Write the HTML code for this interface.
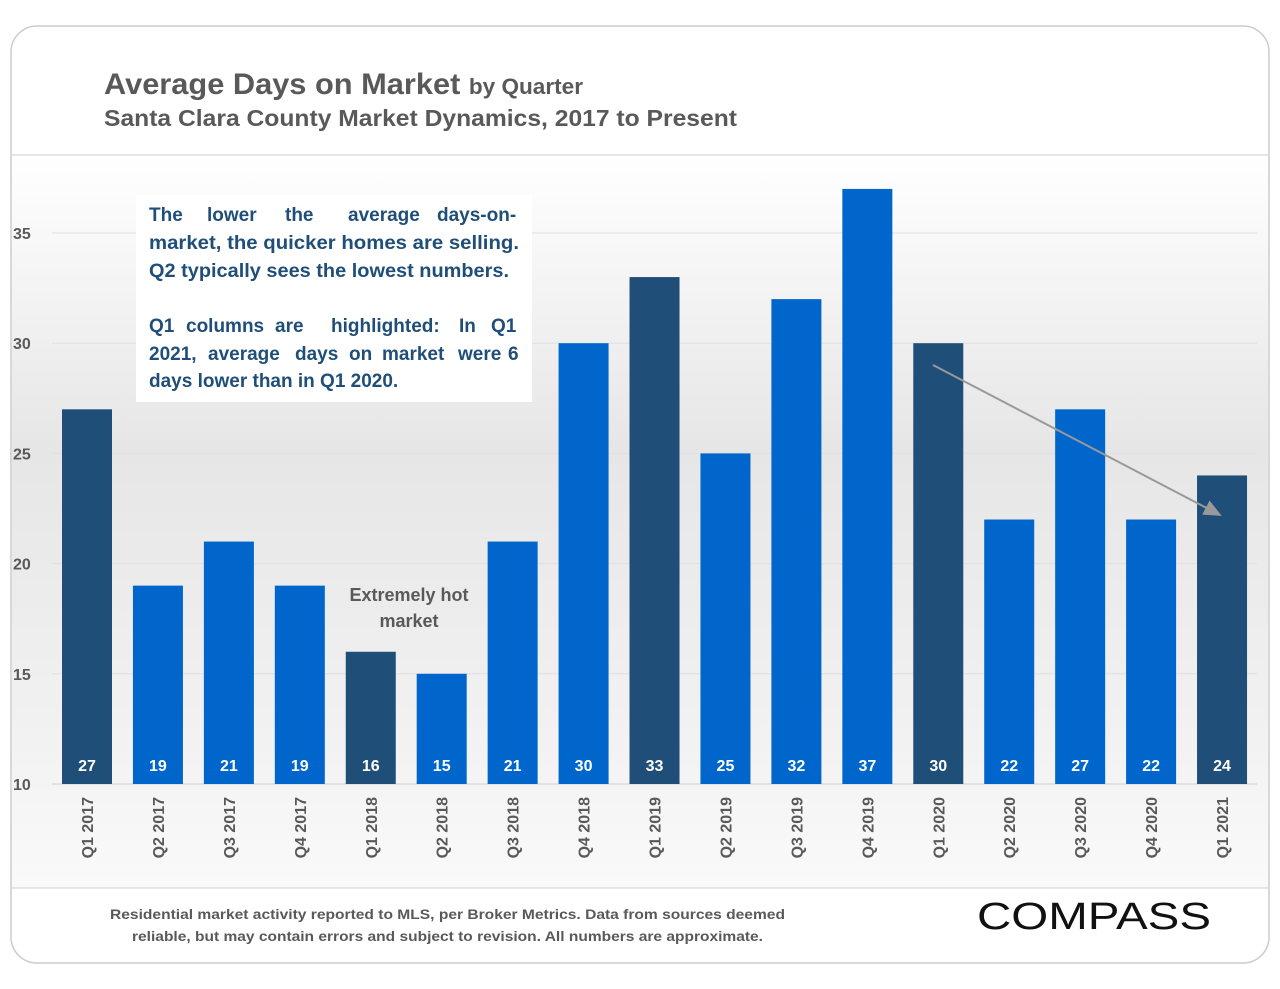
<!DOCTYPE html>
<html><head><meta charset="utf-8"><style>
body{margin:0;background:#fff;}
svg{display:block;font-family:"Liberation Sans",sans-serif;}
</style></head><body>
<svg id="chart" width="1280" height="989" viewBox="0 0 1280 989">
<defs>
<linearGradient id="bg" x1="0" y1="0" x2="0" y2="1">
<stop offset="0" stop-color="#ffffff"/><stop offset="0.4" stop-color="#e6e6e6"/><stop offset="0.8" stop-color="#f2f2f2"/><stop offset="1" stop-color="#fafafa"/>
</linearGradient>
<marker id="ah" markerWidth="10" markerHeight="10" refX="8" refY="5" orient="auto"><path d="M0,1 L9,5 L0,9 z" fill="#999"/></marker>
</defs>
<rect x="11" y="26" width="1258" height="937" rx="26" fill="#fff" stroke="#ccc" stroke-width="1.5"/>
<rect x="12" y="155" width="1256" height="733" fill="url(#bg)"/>
<line x1="12" y1="155" x2="1268" y2="155" stroke="#ddd" stroke-width="1.5"/>
<line x1="12" y1="888" x2="1268" y2="888" stroke="#ddd" stroke-width="1.5"/>
<text x="104" y="94" font-size="30" font-weight="bold" fill="#595959" textLength="479" lengthAdjust="spacingAndGlyphs">Average Days on Market <tspan font-size="22">by Quarter</tspan></text>
<text x="104" y="126" font-size="23" font-weight="bold" fill="#595959" textLength="633" lengthAdjust="spacingAndGlyphs">Santa Clara County Market Dynamics, 2017 to Present</text>
<g id="grid"></g>
<g id="bars"></g>
<g id="xlabels"></g>
<rect x="136" y="195" width="396" height="207" fill="#fff"/>
<g font-size="19" font-weight="bold" fill="#1f4e79">
<text y="221"><tspan x="149">The</tspan><tspan x="207">lower</tspan><tspan x="285">the</tspan><tspan x="348">average</tspan><tspan x="437">days-on-</tspan></text>
<text x="149" y="249" textLength="370" lengthAdjust="spacingAndGlyphs">market, the quicker homes are selling.</text>
<text x="149" y="277" textLength="360" lengthAdjust="spacingAndGlyphs">Q2 typically sees the lowest numbers.</text>
<text y="332"><tspan x="149">Q1</tspan><tspan x="186">columns</tspan><tspan x="275">are</tspan><tspan x="331">highlighted:</tspan><tspan x="459">In</tspan><tspan x="491">Q1</tspan></text>
<text y="360"><tspan x="149">2021,</tspan><tspan x="208">average</tspan><tspan x="295">days</tspan><tspan x="349">on</tspan><tspan x="382">market</tspan><tspan x="458">were</tspan><tspan x="508">6</tspan></text>
<text x="149" y="387">days lower than in Q1 2020.</text>
</g>
<text x="409" y="601" font-size="18" font-weight="bold" fill="#595959" text-anchor="middle">Extremely hot</text>
<text x="409" y="627" font-size="18" font-weight="bold" fill="#595959" text-anchor="middle">market</text>
<line x1="933" y1="365" x2="1220" y2="515" stroke="#999" stroke-width="2" marker-end="url(#ah)"/>
<text x="110" y="919" font-size="14" font-weight="bold" fill="#595959" textLength="675" lengthAdjust="spacingAndGlyphs">Residential market activity reported to MLS, per Broker Metrics. Data from sources deemed</text>
<text x="132" y="941" font-size="14" font-weight="bold" fill="#595959" textLength="631" lengthAdjust="spacingAndGlyphs">reliable, but may contain errors and subject to revision. All numbers are approximate.</text>
<text x="977" y="929" font-size="38" fill="#111" textLength="234" lengthAdjust="spacingAndGlyphs">COMPASS</text>
</svg>
<script>
const categories=["Q1 2017","Q2 2017","Q3 2017","Q4 2017","Q1 2018","Q2 2018","Q3 2018","Q4 2018","Q1 2019","Q2 2019","Q3 2019","Q4 2019","Q1 2020","Q2 2020","Q3 2020","Q4 2020","Q1 2021"];
const values=[27,19,21,19,16,15,21,30,33,25,32,37,30,22,27,22,24];
const ticks=[10,15,20,25,30,35];
const NS="http://www.w3.org/2000/svg";
function y(v){return 784-(v-10)*22.04;}
function xc(i){return 87+i*70.94;}
function mk(t,a,p){const e=document.createElementNS(NS,t);for(const k in a)e.setAttribute(k,a[k]);p.appendChild(e);return e;}
const g=document.getElementById('grid'),b=document.getElementById('bars'),xl=document.getElementById('xlabels');
ticks.forEach(t=>{
 const l=mk('line',{x1:52,x2:1257,y1:y(t),y2:y(t),stroke:t===10?'#d0d0d0':'#e0e0e0','stroke-width':1},g);
 
 
 const tx=mk('text',{x:13,y:y(t)+6,'font-size':16,'font-weight':'bold',fill:'#595959'},g);
 tx.textContent=t;
 
 
});
values.forEach((v,i)=>{
 const q1=categories[i].startsWith('Q1');
 const r=mk('rect',{x:xc(i)-25,y:y(v),width:50,height:784-y(v),fill:q1?'#1f4e79':'#0066cc'},b);
 
 
 const t=mk('text',{x:xc(i),y:771,'font-size':16,'font-weight':'bold',fill:'#fff','text-anchor':'middle'},b);
 t.textContent=v;
 
 
 const lx=mk('text',{transform:`translate(${xc(i)+6},797) rotate(-90)`,'font-size':16,'font-weight':'bold',fill:'#595959','text-anchor':'end'},xl);
 lx.textContent=categories[i];
 
 
});
</script>
</body></html>
